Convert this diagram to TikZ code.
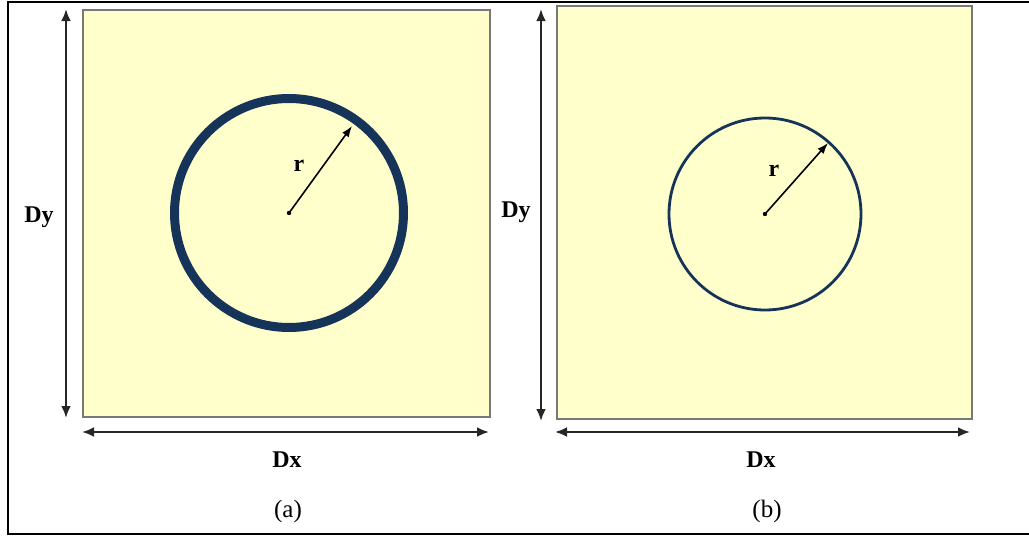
\documentclass[tikz,border=0pt]{standalone}
\usepackage{fontspec}
\setmainfont{Liberation Serif}
\usetikzlibrary{arrows.meta}
\definecolor{paper}{RGB}{255,255,204}
\definecolor{ring}{RGB}{22,52,90}
\definecolor{edge}{RGB}{120,120,120}
\tikzset{
  panel/.style={draw=edge,line width=2pt,fill=paper},
  dimarrow/.style={draw=black!85,line width=2.6pt,{Latex[length=12pt,width=10pt]}-{Latex[length=12pt,width=10pt]}},
  radarrow/.style={draw=black,line width=1.6pt,-{Latex[length=11pt,width=8pt]}},
  dimlabel/.style={font=\fontsize{24}{28}\selectfont\bfseries},
  rlabel/.style={font=\fontsize{24}{28}\selectfont\bfseries},
  caption/.style={font=\fontsize{25}{30}\selectfont}
}
\begin{document}
\begin{tikzpicture}[x=1pt,y=-1pt]
\useasboundingbox (0,0) rectangle (1029,536);
\draw[line width=2pt] (8,2) rectangle (1032,534);
% panel (a)
\draw[panel] (83,10) rectangle (490,417);
\coordinate (ca) at (289,213);
\draw[ring,line width=9pt] (ca) circle[radius=114.5];
\fill (ca) circle[radius=2.2pt];
\coordinate (ta) at (352,126);
\draw[radarrow] (ca) -- (ta);
\node[rlabel] (ra) at (299,166) {r};
\coordinate (ya1) at (66,9);
\coordinate (ya2) at (66,418);
\draw[dimarrow] (ya1) -- (ya2);
\coordinate (xa1) at (82,432);
\coordinate (xa2) at (489,432);
\draw[dimarrow] (xa1) -- (xa2);
\node[dimlabel] (dya) at (39,217) {Dy};
\node[dimlabel] (dxa) at (287,460) {Dx};
\node[caption] (capa) at (288,511) {(a)};
% panel (b)
\draw[panel] (557,6) rectangle (972,419);
\coordinate (cb) at (765,214);
\draw[ring,line width=2.8pt] (cb) circle[radius=96];
\fill (cb) circle[radius=2.2pt];
\coordinate (tb) at (828,143);
\draw[radarrow] (cb) -- (tb);
\node[rlabel] (rb) at (774,171) {r};
\coordinate (yb1) at (541,9);
\coordinate (yb2) at (541,421);
\draw[dimarrow] (yb1) -- (yb2);
\coordinate (xb1) at (555,432);
\coordinate (xb2) at (970,432);
\draw[dimarrow] (xb1) -- (xb2);
\node[dimlabel] (dyb) at (516,212) {Dy};
\node[dimlabel] (dxb) at (761,460) {Dx};
\node[caption] (capb) at (767,511) {(b)};
\end{tikzpicture}
\end{document}
